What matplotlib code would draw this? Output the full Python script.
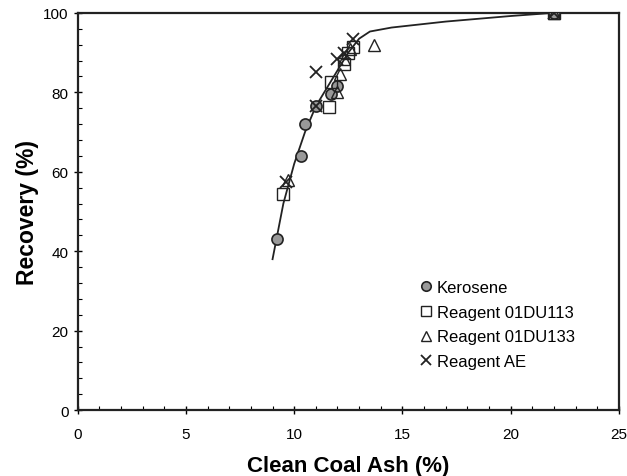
import matplotlib
matplotlib.use("Agg")
from matplotlib import pyplot as plt
from matplotlib.ticker import MultipleLocator

plt.rcParams["font.family"] = ["Liberation Sans", "DejaVu Sans"]

# data
kero_x = [9.2, 10.3, 10.5, 11.0, 11.7, 12.0, 22.0]
kero_y = [43, 64, 72, 76.5, 79.5, 81.5, 100]

du113_x = [9.5, 11.6, 11.7, 12.3, 12.5, 12.7, 22.0]
du113_y = [54.5, 76.3, 82.5, 87, 90, 91.5, 100]

du133_x = [9.7, 12.0, 12.1, 12.3, 12.6, 13.7, 22.0]
du133_y = [58, 80, 84.5, 88.5, 91, 92, 100]

ae_x = [9.6, 11.0, 11.0, 12.0, 12.3, 12.7, 22.0]
ae_y = [57.5, 85, 76.5, 88.5, 90, 93.3, 100]

fit_x = [9.0, 9.5, 10.0, 10.5, 11.0, 11.5, 12.0, 12.5, 13.0, 13.5, 14.5, 17.0, 20.0, 22.0]
fit_y = [38, 52, 62, 70, 76.5, 81, 85.5, 90, 93.5, 95.3, 96.3, 97.8, 99.2, 100]

fig = plt.figure(figsize=(6.27, 4.77), dpi=100)
ax = fig.add_axes([0.124, 0.138, 0.863, 0.833])

ax.plot(fit_x, fit_y, color="#222222", linewidth=1.3, zorder=1)
ax.plot(kero_x, kero_y, "o", markersize=8, markerfacecolor="#999999",
        markeredgecolor="#222222", markeredgewidth=1.2, label="Kerosene", zorder=3)
ax.plot(du113_x, du113_y, "s", markersize=9, markerfacecolor="none",
        markeredgecolor="#222222", markeredgewidth=1.0, label="Reagent 01DU113", zorder=3)
ax.plot(du133_x, du133_y, "^", markersize=9, markerfacecolor="none",
        markeredgecolor="#222222", markeredgewidth=1.0, label="Reagent 01DU133", zorder=3)
ax.plot(ae_x, ae_y, "x", markersize=9, color="#222222",
        markeredgewidth=1.3, label="Reagent AE", zorder=3)

ax.set_xlim(0, 25)
ax.set_ylim(0, 100)
ax.xaxis.set_major_locator(MultipleLocator(5))
ax.xaxis.set_minor_locator(MultipleLocator(1))
ax.yaxis.set_major_locator(MultipleLocator(20))
ax.yaxis.set_minor_locator(MultipleLocator(4))
ax.tick_params(which="major", direction="inout", length=6, width=1, labelsize=11)
ax.tick_params(axis="x", which="major", pad=9)
ax.tick_params(which="minor", direction="in", length=3, width=0.8)
for s in ax.spines.values():
    s.set_linewidth(1.6)
    s.set_color("#222222")

ax.set_xlabel("Clean Coal Ash (%)", fontsize=16, fontweight="bold", labelpad=10)
ax.set_ylabel("Recovery (%)", fontsize=16.5, fontweight="bold", labelpad=3)

leg = ax.legend(loc="upper left", bbox_to_anchor=(0.60, 0.365), frameon=False,
                fontsize=12, handletextpad=0.15, labelspacing=0.58, handlelength=1.0,
                markerscale=0.85)

fig.savefig("out.png", dpi=100)
